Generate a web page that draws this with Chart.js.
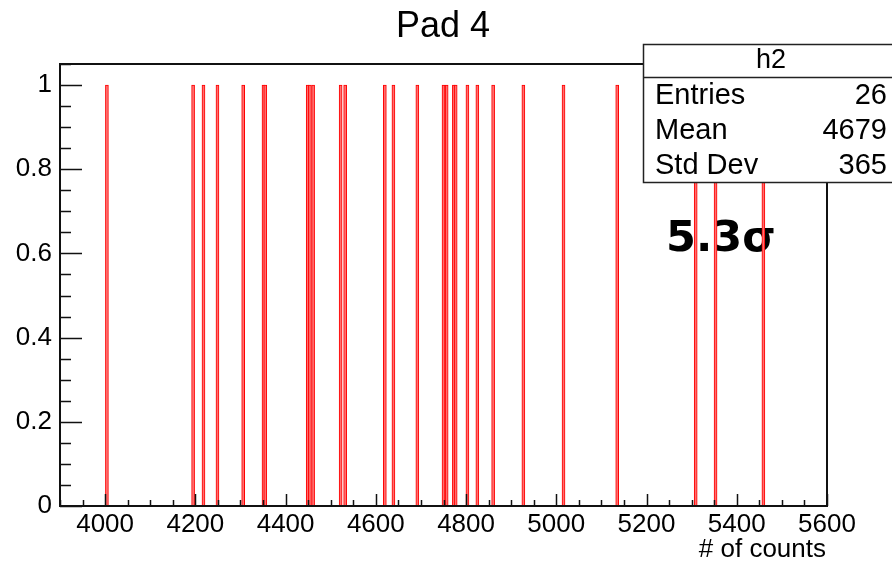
<!DOCTYPE html>
<html>
<head>
<meta charset="utf-8">
<script src="https://cdn.jsdelivr.net/npm/chart.js@4"></script>
<style>
  html, body { margin: 0; padding: 0; background: #ffffff; }
  #wrap { width: 892px; height: 564px; position: relative; }
</style>
</head>
<body>
<div id="wrap"><canvas id="c" width="892" height="564"></canvas></div>
<script>
// Histogram h2: one count per filled bin (bin centre, content)
const binCentres = [4004, 4195, 4218, 4249, 4306, 4351, 4355, 4449, 4454, 4461,
                    4522, 4532, 4620, 4639, 4692, 4750, 4757, 4773, 4777, 4803,
                    4825, 4860, 4927, 5016, 5135, 5309, 5353, 5459];
const binContents = [1, 1, 1, 1, 1, 1, 1, 1, 1, 1,
                     1, 1, 1, 1, 1, 1, 1, 1, 1, 1,
                     1, 1, 1, 1, 1, 1, 1, 1];

// Axis ranges and labelled ticks
const xRange = [3900, 5600];
const yRange = [0, 1.05];
const xTickLabels = [4000, 4200, 4400, 4600, 4800, 5000, 5200, 5400, 5600];
const yTickLabels = [0, 0.2, 0.4, 0.6, 0.8, 1];
const xMinorStep = 50;
const yMinorStep = 0.05;

// Statistics box content
const statsTitle = 'h2';
const statsNames = ['Entries', 'Mean', 'Std Dev'];
const statsValues = ['26', '4679', '365'];

const titleText = 'Pad 4';
const xAxisTitle = '# of counts';
const noteText = '5.3\u03c3';

const FONT = '"Liberation Sans", Arial, Helvetica, sans-serif';

const points = binCentres.map((x, i) => ({ x: x, y: binContents[i] }));

// Frame, inward tick marks, labels and the statistics box
const rootStyle = {
  id: 'rootStyle',
  beforeDatasetsDraw(chart) {
    const ctx = chart.ctx;
    ctx.save();
    ctx.fillStyle = '#000';
    ctx.font = 'bold 43px "DejaVu Sans", sans-serif';
    ctx.textAlign = 'left';
    ctx.textBaseline = 'middle';
    ctx.fillText(noteText, 666, 240);
    ctx.restore();
  },
  afterDatasetsDraw(chart) {
    const ctx = chart.ctx;
    const a = chart.chartArea;
    const xs = chart.scales.x, ys = chart.scales.y;
    ctx.save();
    ctx.strokeStyle = '#111';
    ctx.lineWidth = 1.5;
    // y ticks (inside the frame)
    ctx.beginPath();
    const nY = Math.round((yRange[1] - yRange[0]) / yMinorStep);
    for (let i = 0; i <= nY; i++) {
      const v = yRange[0] + i * yMinorStep;
      if (v > yRange[1] + 1e-9) break;
      const major = Math.abs(v / 0.2 - Math.round(v / 0.2)) < 1e-6;
      const py = Math.round(ys.getPixelForValue(v)) + 0.5;
      ctx.moveTo(a.left, py);
      ctx.lineTo(a.left + (major ? 22 : 11), py);
    }
    // x ticks (inside the frame)
    for (let v = Math.ceil(xRange[0] / xMinorStep) * xMinorStep; v <= xRange[1]; v += xMinorStep) {
      const major = v % 200 === 0;
      const px = Math.round(xs.getPixelForValue(v)) + 0.5;
      ctx.moveTo(px, a.bottom);
      ctx.lineTo(px, a.bottom - (major ? 12 : 6));
    }
    ctx.stroke();
    // frame
    ctx.lineWidth = 2;
    ctx.strokeRect(a.left, a.top, a.right - a.left, a.bottom - a.top);
    ctx.restore();
  },
  afterDraw(chart) {
    const ctx = chart.ctx;
    const W = chart.width;
    ctx.save();
    ctx.fillStyle = '#000';
    // title
    ctx.font = '36px ' + FONT;
    ctx.textAlign = 'center';
    ctx.textBaseline = 'middle';
    ctx.fillText(titleText, 443, 27);
    // x axis title
    ctx.font = '26px ' + FONT;
    ctx.textAlign = 'right';
    ctx.fillText(xAxisTitle, 826, 550);
    // statistics box
    const bx = 643, by = 44, bw = W - bx + 2, bh = 138;
    ctx.fillStyle = '#fff';
    ctx.fillRect(bx, by, bw, bh);
    ctx.strokeStyle = '#222';
    ctx.lineWidth = 1.5;
    ctx.strokeRect(bx + 0.5, by + 0.5, bw, bh);
    ctx.beginPath();
    ctx.moveTo(bx, 77.5);
    ctx.lineTo(W, 77.5);
    ctx.stroke();
    ctx.fillStyle = '#000';
    ctx.font = '27px ' + FONT;
    ctx.textAlign = 'center';
    ctx.fillText(statsTitle, 771, 61);
    ctx.font = '29px ' + FONT;
    const rowY = [96, 131, 166];
    statsNames.forEach((n, i) => {
      ctx.textAlign = 'left';
      ctx.fillText(n, 655, rowY[i]);
      ctx.textAlign = 'right';
      ctx.fillText(statsValues[i], 887, rowY[i]);
    });
    ctx.restore();
  }
};

new Chart(document.getElementById('c'), {
  type: 'bar',
  data: {
    datasets: [{
      label: statsTitle,
      data: points,
      barThickness: 3,
      backgroundColor: '#ff6e6e',
      borderColor: '#ff0000',
      borderWidth: { left: 1, right: 1, top: 1, bottom: 0 },
      borderSkipped: false
    }]
  },
  options: {
    responsive: false,
    devicePixelRatio: 1,
    animation: false,
    layout: { padding: { top: 64, right: 65, left: 0, bottom: 0 } },
    plugins: { legend: { display: false }, tooltip: { enabled: false }, title: { display: false } },
    scales: {
      x: {
        type: 'linear',
        min: xRange[0],
        max: xRange[1],
        offset: false,
        grid: { display: false, drawTicks: false },
        border: { display: false },
        afterBuildTicks(scale) { scale.ticks = xTickLabels.map(v => ({ value: v })); },
        afterFit(scale) { scale.height = 58; },
        ticks: {
          autoSkip: false,
          maxRotation: 0,
          padding: 3,
          color: '#000',
          font: { family: FONT, size: 26 },
          callback: v => String(v)
        }
      },
      y: {
        type: 'linear',
        min: yRange[0],
        max: yRange[1],
        grid: { display: false, drawTicks: false },
        border: { display: false },
        afterBuildTicks(scale) { scale.ticks = yTickLabels.map(v => ({ value: v })); },
        afterFit(scale) { scale.width = 60; },
        ticks: {
          padding: 8,
          color: '#000',
          font: { family: FONT, size: 26 },
          callback: v => String(+v.toFixed(2))
        }
      }
    }
  },
  plugins: [rootStyle]
});
</script>
</body>
</html>
